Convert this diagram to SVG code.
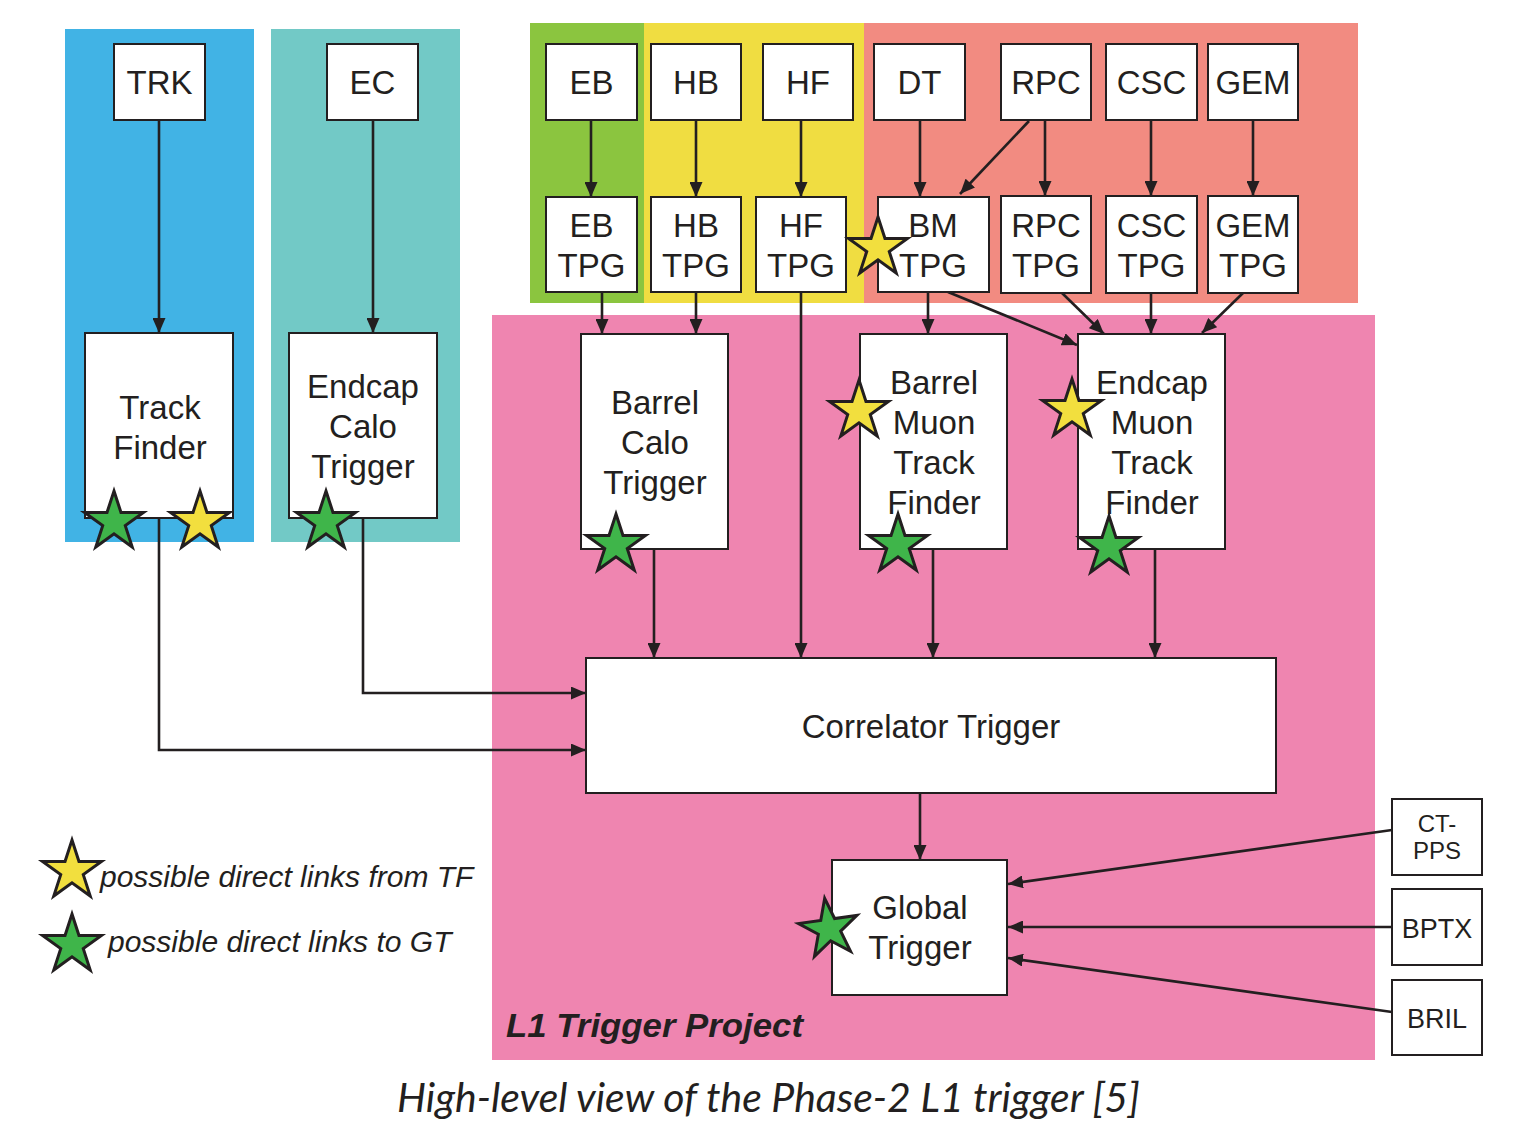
<svg xmlns="http://www.w3.org/2000/svg" xmlns:xlink="http://www.w3.org/1999/xlink" width="1527" height="1125" viewBox="0 0 1527 1125">
<defs>
<style>
.box{fill:#ffffff;stroke:#231f20;stroke-width:2}
.lbl{font-family:"Liberation Sans",Arial,sans-serif;font-size:33px;fill:#231f20;text-anchor:middle}
.sm{font-size:24px}
.md{font-size:27px}
.leg{font-family:"Liberation Sans",Arial,sans-serif;font-size:30px;font-style:italic;fill:#231f20}
.conn{fill:none;stroke:#231f20;stroke-width:2.6}
.sy{fill:#f2df3e;stroke:#231f20;stroke-width:3}
.sg{fill:#3fb54a;stroke:#231f20;stroke-width:3}
</style>
<polygon id="star" points="0,-31 6.97,-9.59 29.48,-9.58 11.28,3.66 18.22,25.08 0,11.85 -18.22,25.08 -11.28,3.66 -29.48,-9.58 -6.97,-9.59"/>
<marker id="ah" viewBox="0 0 15 13" refX="15" refY="6.5" markerWidth="15" markerHeight="13" markerUnits="userSpaceOnUse" orient="auto">
<path d="M0,0 L15,6.5 L0,13 z" fill="#231f20"/>
</marker>
</defs>
<rect width="1527" height="1125" fill="#ffffff"/>
<g id="panels">
<rect x="65" y="29" width="189" height="513" fill="#41b3e5"/>
<rect x="271" y="29" width="189" height="513" fill="#72c9c6"/>
<rect x="530" y="23" width="114" height="280" fill="#8bc53f"/>
<rect x="644" y="23" width="220" height="280" fill="#f0dd41"/>
<rect x="864" y="23" width="494" height="280" fill="#f28b81"/>
<rect x="492" y="315" width="883" height="745" fill="#ef85b0"/>
<text x="506" y="1037" style="font-family:'Liberation Sans',Arial,sans-serif;font-size:33px;font-weight:bold;font-style:italic;fill:#231f20" textLength="297" lengthAdjust="spacingAndGlyphs">L1 Trigger Project</text>
</g>
<g id="connectors" class="conn" marker-end="url(#ah)">
<path d="M159,120 V333"/>
<path d="M373,120 V333"/>
<path d="M591,120 V197"/>
<path d="M696,120 V197"/>
<path d="M801,120 V197"/>
<path d="M920,120 V197"/>
<path d="M1029,121 L960,194"/>
<path d="M1045,120 V196"/>
<path d="M1151,120 V196"/>
<path d="M1253,120 V196"/>
<path d="M602,292 V334"/>
<path d="M696,292 V334"/>
<path d="M801,292 V658"/>
<path d="M928,292 V334"/>
<path d="M948,292 L1077,345"/>
<path d="M1062,293 L1104,334"/>
<path d="M1151,293 V334"/>
<path d="M1243,293 L1202,333"/>
<path d="M654,549 V658"/>
<path d="M933,549 V658"/>
<path d="M1155,549 V658"/>
<path d="M159,518 V750 H586"/>
<path d="M363,518 V693 H586"/>
<path d="M920,793 V860"/>
<path d="M1392,830 L1008,884"/>
<path d="M1392,927 H1008"/>
<path d="M1392,1012 L1008,958"/>
</g>
<g id="n-trk"><rect class="box" x="114" y="44" width="91" height="76"/><text class="lbl" x="159.5" y="94">TRK</text></g>
<g id="n-ec"><rect class="box" x="327" y="44" width="91" height="76"/><text class="lbl" x="372.5" y="94">EC</text></g>
<g id="n-eb"><rect class="box" x="546" y="44" width="91" height="76"/><text class="lbl" x="591.5" y="94">EB</text></g>
<g id="n-hb"><rect class="box" x="651" y="44" width="90" height="76"/><text class="lbl" x="696" y="94">HB</text></g>
<g id="n-hf"><rect class="box" x="763" y="44" width="90" height="76"/><text class="lbl" x="808" y="94">HF</text></g>
<g id="n-dt"><rect class="box" x="874" y="44" width="91" height="76"/><text class="lbl" x="919.5" y="94">DT</text></g>
<g id="n-rpc"><rect class="box" x="1001" y="44" width="90" height="76"/><text class="lbl" x="1046" y="94">RPC</text></g>
<g id="n-csc"><rect class="box" x="1106" y="44" width="91" height="76"/><text class="lbl" x="1151.5" y="94">CSC</text></g>
<g id="n-gem"><rect class="box" x="1208" y="44" width="90" height="76"/><text class="lbl" x="1253" y="94">GEM</text></g>
<g id="n-ebtpg"><rect class="box" x="546" y="197" width="91" height="95"/><text class="lbl" x="591.5" y="237">EB</text><text class="lbl" x="591.5" y="277">TPG</text></g>
<g id="n-hbtpg"><rect class="box" x="651" y="197" width="90" height="95"/><text class="lbl" x="696" y="237">HB</text><text class="lbl" x="696" y="277">TPG</text></g>
<g id="n-hftpg"><rect class="box" x="756" y="197" width="90" height="95"/><text class="lbl" x="801" y="237">HF</text><text class="lbl" x="801" y="277">TPG</text></g>
<g id="n-bmtpg"><rect class="box" x="878" y="197" width="111" height="95"/><use href="#star" class="sy" x="878" y="248"/><text class="lbl" x="933" y="237">BM</text><text class="lbl" x="933" y="277">TPG</text></g>
<g id="n-rpctpg"><rect class="box" x="1001" y="196" width="90" height="97"/><text class="lbl" x="1046" y="237">RPC</text><text class="lbl" x="1046" y="277">TPG</text></g>
<g id="n-csctpg"><rect class="box" x="1106" y="196" width="91" height="97"/><text class="lbl" x="1151.5" y="237">CSC</text><text class="lbl" x="1151.5" y="277">TPG</text></g>
<g id="n-gemtpg"><rect class="box" x="1208" y="196" width="90" height="97"/><text class="lbl" x="1253" y="237">GEM</text><text class="lbl" x="1253" y="277">TPG</text></g>
<g id="n-tf"><rect class="box" x="85" y="333" width="148" height="185"/><text class="lbl" x="160" y="419">Track</text><text class="lbl" x="160" y="459">Finder</text><use href="#star" class="sg" x="114" y="522"/><use href="#star" class="sy" x="200" y="522"/></g>
<g id="n-ect"><rect class="box" x="289" y="333" width="148" height="185"/><text class="lbl" x="363" y="398">Endcap</text><text class="lbl" x="363" y="438">Calo</text><text class="lbl" x="363" y="478">Trigger</text><use href="#star" class="sg" x="326" y="522"/></g>
<g id="n-bct"><rect class="box" x="581" y="334" width="147" height="215"/><text class="lbl" x="655" y="414">Barrel</text><text class="lbl" x="655" y="454">Calo</text><text class="lbl" x="655" y="494">Trigger</text><use href="#star" class="sg" x="616" y="545"/></g>
<g id="n-bmtf"><rect class="box" x="860" y="334" width="147" height="215"/><text class="lbl" x="934" y="394">Barrel</text><text class="lbl" x="934" y="434">Muon</text><text class="lbl" x="934" y="474">Track</text><text class="lbl" x="934" y="514">Finder</text><use href="#star" class="sy" x="859" y="411"/><use href="#star" class="sg" x="898" y="545"/></g>
<g id="n-emtf"><rect class="box" x="1078" y="334" width="147" height="215"/><text class="lbl" x="1152" y="394">Endcap</text><text class="lbl" x="1152" y="434">Muon</text><text class="lbl" x="1152" y="474">Track</text><text class="lbl" x="1152" y="514">Finder</text><use href="#star" class="sy" x="1072" y="410"/><use href="#star" class="sg" x="1109" y="547"/></g>
<g id="n-ct"><rect class="box" x="586" y="658" width="690" height="135"/><text class="lbl" x="931" y="738">Correlator Trigger</text></g>
<g id="n-gt"><rect class="box" x="832" y="860" width="175" height="135"/><text class="lbl" x="920" y="919">Global</text><text class="lbl" x="920" y="959">Trigger</text><use href="#star" class="sg" transform="translate(829,929) rotate(-8)"/></g>
<g id="n-ctpps"><rect class="box" x="1392" y="799" width="90" height="76"/><text class="lbl sm" x="1437" y="832">CT-</text><text class="lbl sm" x="1437" y="859">PPS</text></g>
<g id="n-bptx"><rect class="box" x="1392" y="889" width="90" height="76"/><text class="lbl md" x="1437" y="938">BPTX</text></g>
<g id="n-bril"><rect class="box" x="1392" y="980" width="90" height="75"/><text class="lbl md" x="1437" y="1028">BRIL</text></g>
<g id="legend">
<use href="#star" class="sy" x="72" y="871"/>
<text class="leg" x="100" y="887">possible direct links from TF</text>
<use href="#star" class="sg" x="72" y="945"/>
<text class="leg" x="108" y="952">possible direct links to GT</text>
</g>
<text x="397" y="1112" style="font-family:Lato,'Liberation Sans',sans-serif;font-size:40px;font-style:italic;fill:#231f20" textLength="743" lengthAdjust="spacingAndGlyphs">High-level view of the Phase-2 L1 trigger [5]</text>
</svg>
